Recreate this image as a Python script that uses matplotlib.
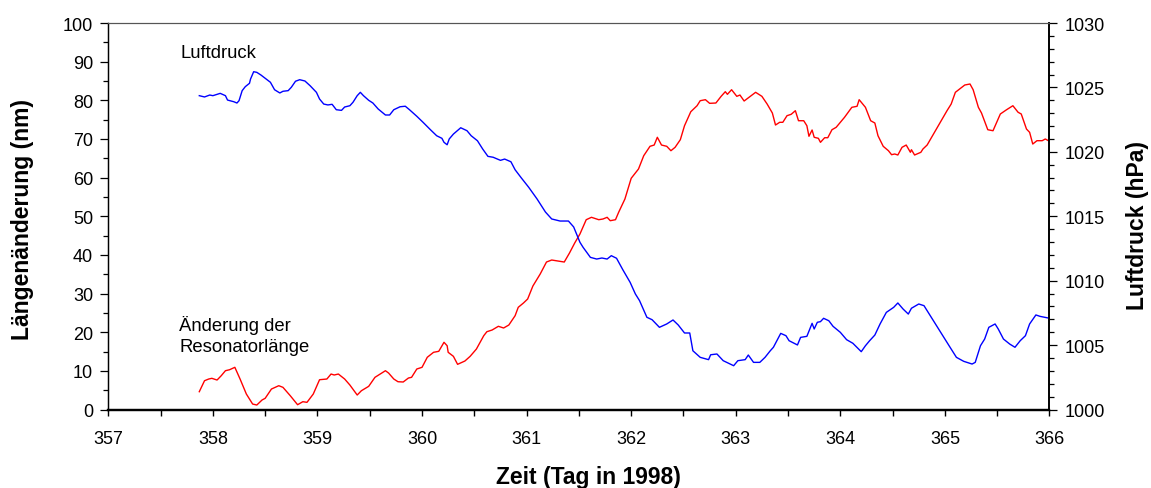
import matplotlib
matplotlib.use("Agg")
import matplotlib.pyplot as plt
from matplotlib.ticker import MultipleLocator

plt.rcParams['font.family'] = ['Liberation Sans', 'DejaVu Sans']

# Luftdruck (hPa) over time (day of year 1998)
druck_tag = [357.87, 357.92, 357.97, 358.00, 358.07, 358.12, 358.14, 358.20, 358.23, 358.25,
             358.28, 358.31, 358.35, 358.36, 358.39, 358.42, 358.46, 358.50, 358.55, 358.59,
             358.64, 358.67, 358.72, 358.75, 358.79, 358.83, 358.88, 358.93, 358.99, 359.02,
             359.06, 359.10, 359.14, 359.18, 359.23, 359.26, 359.31, 359.34, 359.38, 359.41,
             359.44, 359.49, 359.53, 359.58, 359.65, 359.69, 359.73, 359.79, 359.84, 359.88,
             359.95, 360.01, 360.08, 360.14, 360.19, 360.21, 360.24, 360.26, 360.30, 360.37,
             360.43, 360.47, 360.53, 360.58, 360.63, 360.68, 360.75, 360.79, 360.85, 360.89,
             360.95, 361.02, 361.10, 361.18, 361.24, 361.32, 361.40, 361.45, 361.51, 361.54,
             361.61, 361.67, 361.72, 361.77, 361.81, 361.86, 361.92, 361.99, 362.04, 362.08,
             362.15, 362.20, 362.27, 362.34, 362.40, 362.45, 362.51, 362.56, 362.59, 362.66,
             362.74, 362.76, 362.82, 362.88, 362.98, 363.02, 363.09, 363.12, 363.17, 363.23,
             363.28, 363.33, 363.36, 363.43, 363.48, 363.51, 363.59, 363.62, 363.68, 363.73,
             363.75, 363.78, 363.81, 363.84, 363.89, 363.93, 364.00, 364.06, 364.12, 364.20,
             364.24, 364.28, 364.33, 364.38, 364.44, 364.51, 364.55, 364.60, 364.65, 364.68,
             364.75, 364.80, 364.89, 364.97, 365.04, 365.11, 365.18, 365.26, 365.29, 365.34,
             365.38, 365.42, 365.48, 365.51, 365.56, 365.62, 365.67, 365.72, 365.77, 365.81,
             365.87, 365.91, 365.99]
druck_hpa = [1024.36, 1024.26, 1024.41, 1024.36, 1024.54, 1024.36, 1024.02, 1023.89, 1023.79, 1023.97,
             1024.75, 1025.06, 1025.32, 1025.65, 1026.22, 1026.17, 1025.96, 1025.71, 1025.40, 1024.82,
             1024.57, 1024.70, 1024.75, 1025.01, 1025.48, 1025.60, 1025.50, 1025.13, 1024.62, 1024.10,
             1023.71, 1023.64, 1023.69, 1023.27, 1023.22, 1023.48, 1023.58, 1023.85, 1024.36, 1024.62,
             1024.36, 1024.00, 1023.79, 1023.33, 1022.86, 1022.86, 1023.27, 1023.50, 1023.54, 1023.27,
             1022.76, 1022.29, 1021.72, 1021.25, 1021.05, 1020.74, 1020.55, 1021.00, 1021.38, 1021.87,
             1021.64, 1021.25, 1020.86, 1020.22, 1019.65, 1019.58, 1019.34, 1019.44, 1019.23, 1018.61,
             1017.97, 1017.25, 1016.34, 1015.33, 1014.79, 1014.63, 1014.63, 1014.17, 1012.98, 1012.59,
             1011.81, 1011.68, 1011.76, 1011.68, 1011.94, 1011.74, 1010.85, 1009.87, 1008.97, 1008.45,
             1007.16, 1006.97, 1006.38, 1006.64, 1006.95, 1006.56, 1005.94, 1005.94, 1004.56, 1004.05,
             1003.87, 1004.25, 1004.31, 1003.79, 1003.40, 1003.79, 1003.87, 1004.23, 1003.66, 1003.66,
             1004.05, 1004.56, 1004.83, 1005.91, 1005.73, 1005.34, 1005.01, 1005.60, 1005.68, 1006.69,
             1006.25, 1006.77, 1006.82, 1007.08, 1006.89, 1006.46, 1005.99, 1005.42, 1005.14, 1004.49,
             1004.95, 1005.34, 1005.78, 1006.64, 1007.54, 1007.93, 1008.27, 1007.80, 1007.41, 1007.86,
             1008.19, 1008.06, 1006.89, 1005.86, 1004.95, 1004.05, 1003.74, 1003.53, 1003.66, 1004.95,
             1005.47, 1006.38, 1006.64, 1006.25, 1005.47, 1005.08, 1004.83, 1005.34, 1005.73, 1006.64,
             1007.34, 1007.23, 1007.10]

# Change of resonator length (nm) over time
laenge_tag = [357.87, 357.92, 357.96, 357.99, 358.04, 358.08, 358.12, 358.16, 358.21, 358.26,
              358.32, 358.38, 358.42, 358.47, 358.50, 358.56, 358.63, 358.67, 358.74, 358.81,
              358.86, 358.90, 358.96, 359.02, 359.09, 359.13, 359.16, 359.20, 359.26, 359.31,
              359.38, 359.42, 359.49, 359.55, 359.60, 359.65, 359.68, 359.73, 359.77, 359.82,
              359.87, 359.90, 359.95, 360.00, 360.05, 360.11, 360.16, 360.21, 360.24, 360.25,
              360.30, 360.34, 360.41, 360.46, 360.52, 360.59, 360.62, 360.67, 360.73, 360.78,
              360.83, 360.89, 360.92, 360.97, 361.01, 361.06, 361.13, 361.19, 361.24, 361.30,
              361.36, 361.41, 361.46, 361.51, 361.57, 361.62, 361.69, 361.73, 361.77, 361.80,
              361.85, 361.88, 361.94, 362.00, 362.07, 362.12, 362.18, 362.22, 362.25, 362.29,
              362.34, 362.38, 362.42, 362.47, 362.51, 362.57, 362.63, 362.66, 362.71, 362.75,
              362.81, 362.86, 362.90, 362.92, 362.96, 363.01, 363.04, 363.08, 363.14, 363.19,
              363.25, 363.30, 363.35, 363.38, 363.42, 363.45, 363.49, 363.53, 363.57, 363.60,
              363.65, 363.68, 363.70, 363.73, 363.75, 363.79, 363.81, 363.85, 363.88, 363.92,
              363.96, 364.00, 364.04, 364.11, 364.16, 364.18, 364.24, 364.29, 364.33, 364.36,
              364.41, 364.46, 364.49, 364.52, 364.55, 364.59, 364.63, 364.67, 364.68, 364.71,
              364.77, 364.79, 364.83, 365.02, 365.06, 365.10, 365.14, 365.19, 365.24, 365.27,
              365.32, 365.35, 365.41, 365.46, 365.53, 365.59, 365.65, 365.70, 365.73, 365.78,
              365.81, 365.84, 365.88, 365.93, 365.96, 365.99]
laenge_nm = [4.61, 7.45, 7.89, 8.07, 7.63, 8.75, 10.04, 10.30, 10.92, 7.89,
             4.01, 1.42, 1.16, 2.46, 2.90, 5.30, 6.16, 5.74, 3.57, 1.24,
             2.02, 1.86, 4.01, 7.71, 7.89, 9.18, 8.93, 9.18, 7.89, 6.34,
             3.75, 4.86, 6.00, 8.33, 9.18, 10.04, 9.44, 7.89, 7.19, 7.12,
             8.15, 8.33, 10.48, 10.92, 13.51, 14.80, 15.06, 17.39, 16.51, 14.80,
             13.76, 11.69, 12.55, 13.76, 15.65, 19.09, 20.13, 20.57, 21.53, 21.09,
             21.86, 24.27, 26.44, 27.56, 28.59, 31.95, 35.06, 38.16, 38.68, 38.42,
             38.16, 40.49, 43.08, 45.41, 49.11, 49.73, 49.11, 49.29, 49.73, 48.85,
             49.11, 51.02, 54.46, 59.82, 62.23, 65.67, 68.10, 68.43, 70.43, 68.43,
             68.10, 66.96, 67.84, 69.81, 73.43, 77.05, 78.60, 79.90, 80.16, 79.22,
             79.30, 81.03, 82.23, 81.55, 82.74, 81.03, 81.37, 79.82, 81.03, 82.07,
             81.03, 79.04, 76.71, 73.61, 74.31, 74.31, 76.02, 76.38, 77.31, 74.72,
             74.72, 73.43, 70.69, 72.32, 70.43, 70.17, 69.13, 70.32, 70.32, 72.39,
             73.01, 74.31, 75.60, 78.19, 78.45, 80.16, 78.19, 74.72, 74.13, 70.84,
             68.10, 66.96, 65.93, 66.11, 65.85, 67.84, 68.43, 66.55, 67.22, 65.85,
             66.55, 67.40, 68.43, 77.31, 79.04, 82.07, 82.92, 83.96, 84.22, 82.74,
             78.19, 76.71, 72.39, 72.13, 76.46, 77.57, 78.60, 76.90, 76.46, 72.57,
             71.72, 68.69, 69.55, 69.55, 69.99, 69.55]

fig = plt.figure(figsize=(11.51, 4.89), dpi=100)
ax = fig.add_axes([0.0941, 0.1605, 0.8177, 0.7904])
ax2 = ax.twinx()

ax.plot(laenge_tag, laenge_nm, color='#ff0000', lw=1.0)
ax2.plot(druck_tag, druck_hpa, color='#0000ff', lw=1.0)

ax.set_xlim(357, 366)
ax.set_ylim(0, 100)
ax2.set_ylim(1000, 1030)

ax.xaxis.set_major_locator(MultipleLocator(1))
ax.xaxis.set_minor_locator(MultipleLocator(0.5))
ax.yaxis.set_major_locator(MultipleLocator(10))
ax.yaxis.set_minor_locator(MultipleLocator(5))
ax2.yaxis.set_major_locator(MultipleLocator(5))
ax2.yaxis.set_minor_locator(MultipleLocator(1))

ax.tick_params(axis='x', which='both', direction='out', length=4.5, width=1.0,
               pad=10, labelsize=13)
ax.tick_params(axis='y', which='major', direction='out', length=6, width=0.9,
               pad=5, labelsize=13)
ax.tick_params(axis='y', which='minor', direction='out', length=3.6, width=0.9)
ax2.tick_params(axis='y', which='major', direction='out', length=6, width=0.9,
                pad=5, labelsize=13)
ax2.tick_params(axis='y', which='minor', direction='out', length=3.6, width=0.9)

for a in (ax, ax2):
    a.spines['bottom'].set_linewidth(1.6)
    a.spines['left'].set_linewidth(0.9)
    a.spines['right'].set_linewidth(1.2)
    a.spines['top'].set_linewidth(0.8)
    a.spines['top'].set_color('#555555')

fig.text(0.0196, 0.5517, 'Längenänderung (nm)', rotation=90, ha='center', va='center',
         fontsize=16.5, fontweight='bold')
fig.text(0.9887, 0.5382, 'Luftdruck (hPa)', rotation=90, ha='center', va='center',
         fontsize=16.5, fontweight='bold')
fig.text(0.5109, 0.0245, 'Zeit (Tag in 1998)', ha='center', va='center',
         fontsize=16.5, fontweight='bold')

ax.text(357.692, 91.13, 'Luftdruck', ha='left', va='baseline', fontsize=13.3)
ax.text(357.676, 20.65, 'Änderung der', ha='left', va='baseline', fontsize=13.3)
ax.text(357.676, 15.21, 'Resonatorlänge', ha='left', va='baseline', fontsize=13.3)

fig.savefig('out.png', dpi=100)
